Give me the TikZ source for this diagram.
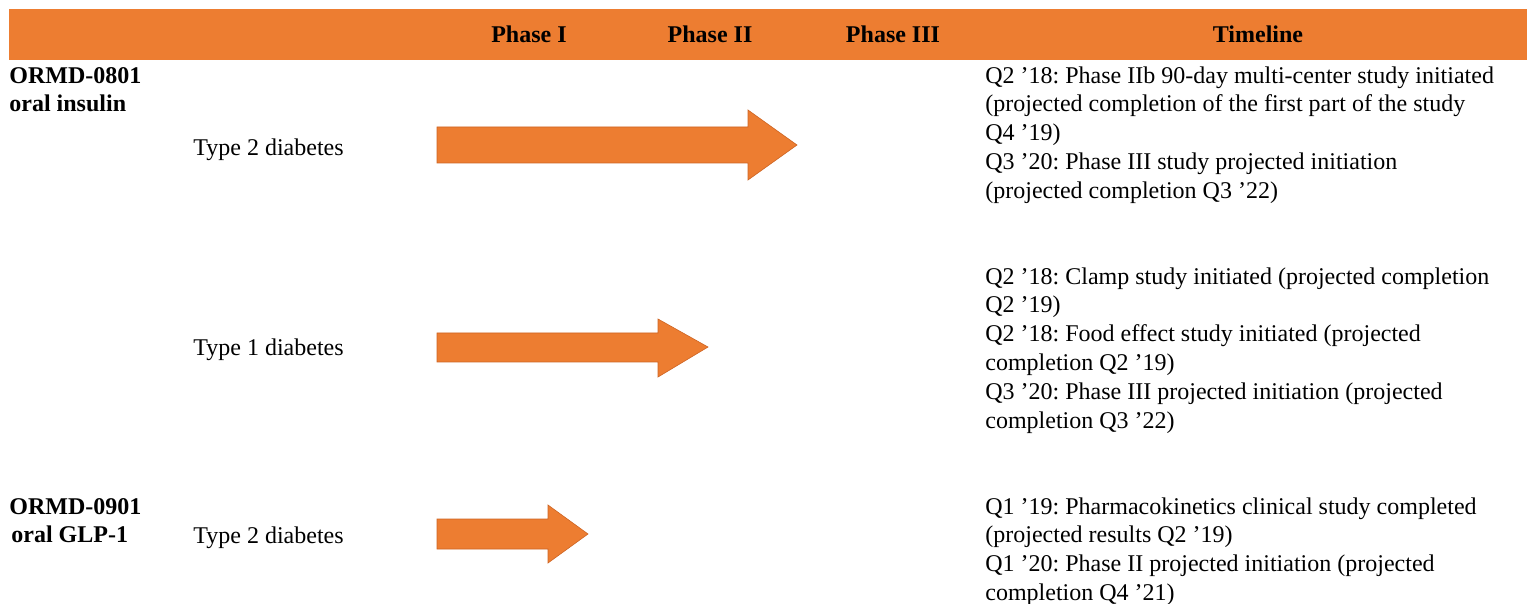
\documentclass[tikz,border=0pt]{standalone}
\usepackage{fontspec}
\setmainfont{Liberation Serif}
\usetikzlibrary{positioning}
\definecolor{phaseorange}{RGB}{237,125,49}
\definecolor{arrowedge}{RGB}{205,100,35}

\tikzset{
  colhead/.style={font=\fontsize{12}{14.4}\selectfont\bfseries, anchor=base, inner sep=0pt},
  drug/.style={font=\fontsize{12}{14.2}\selectfont\bfseries, align=left, anchor=north west, inner sep=0pt},
  indication/.style={font=\fontsize{12}{14.4}\selectfont, anchor=base west, inner sep=0pt},
  timeline/.style={font=\fontsize{12}{14.4}\selectfont\frenchspacing, align=left, anchor=north west, inner sep=0pt},
  phasearrow/.style={fill=phaseorange, draw=arrowedge, line width=0.3pt, line join=miter},
}

\begin{document}
\begin{tikzpicture}[x=0.5pt,y=-0.5pt]
\useasboundingbox (0,0) rectangle (1527,604);
% header bar
\fill[phaseorange] (9,9) rectangle (1527,60);
\node[colhead] (ph1) at (529,43) {Phase I};
\node[colhead] (ph2) at (710,43) {Phase II};
\node[colhead] (ph3) at (893,43) {Phase III};
\node[colhead] (tl) at (1258,43) {Timeline};

% oral insulin
\node[drug] (ormd0801) at (9,67) {ORMD-0801\\oral insulin};
\node[indication] (t2a) at (193,156) {Type 2 diabetes};
\draw[phasearrow] (437,127) -- (748,127) -- (748,110) -- (797,145)
  -- (748,180) -- (748,163) -- (437,163) -- cycle;
\node[timeline] (tla) at (985,66) {Q2 ’18: Phase IIb 90-day multi-center study initiated\\
  (projected completion of the first part of the study\\
  Q4 ’19)\\
  Q3 ’20: Phase III study projected initiation\\
  (projected completion Q3 ’22)};

\node[indication] (t1) at (193,356) {Type 1 diabetes};
\draw[phasearrow] (437,333) -- (658,333) -- (658,319) -- (708,347)
  -- (658,377) -- (658,362) -- (437,362) -- cycle;
\node[timeline] (tlb) at (985,267) {Q2 ’18: Clamp study initiated (projected completion\\
  Q2 ’19)\\
  Q2 ’18: Food effect study initiated (projected\\
  completion Q2 ’19)\\
  Q3 ’20: Phase III projected initiation (projected\\
  completion Q3 ’22)};

% oral GLP-1
\node[drug] (ormd0901) at (9,498) {ORMD-0901\\\hspace*{1pt}oral GLP-1};
\node[indication] (t2b) at (193,543) {Type 2 diabetes};
\draw[phasearrow] (437,519) -- (548,519) -- (548,505) -- (588,534)
  -- (548,563) -- (548,549) -- (437,549) -- cycle;
\node[timeline] (tlc) at (985,497) {Q1 ’19: Pharmacokinetics clinical study completed\\
  (projected results Q2 ’19)\\
  Q1 ’20: Phase II projected initiation (projected\\
  completion Q4 ’21)};
\end{tikzpicture}
\end{document}
